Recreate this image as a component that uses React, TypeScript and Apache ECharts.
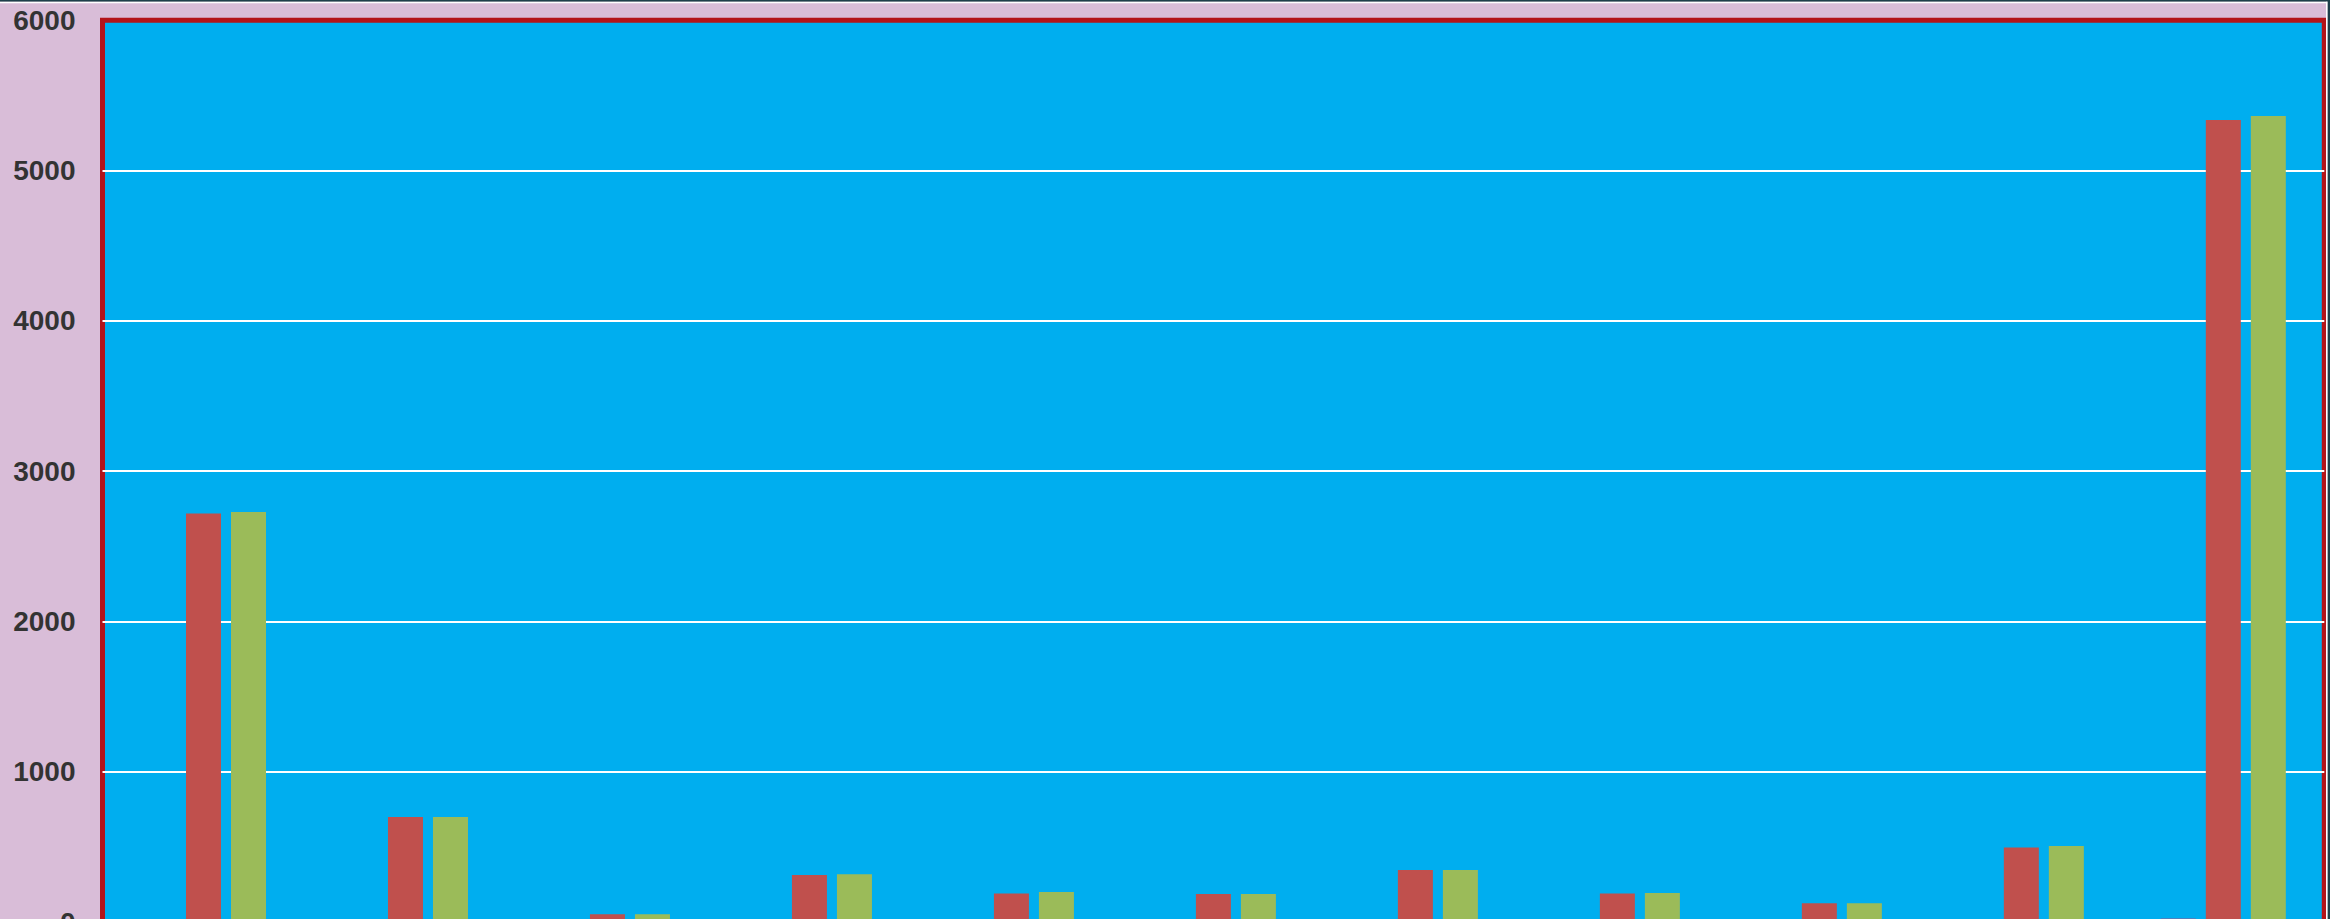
import React, { useEffect, useRef } from "react";
import * as echarts from "echarts";

// Category axis (labels are cut off below the visible area in the reference)
const categories = ["C1", "C2", "C3", "C4", "C5", "C6", "C7", "C8", "C9", "C10", "Total"];

// Series values
const seriesBlue = [2, 2, 1, 2, 2, 2, 3, 2, 2, 4, 27];
const seriesRed = [2719, 699, 52, 313, 191, 187, 347, 191, 125, 497, 5336];
const seriesGreen = [2728, 699, 52, 318, 200, 187, 347, 194, 125, 506, 5362];

// Value axis
const yMin = 0;
const yMax = 6000;
const yInterval = 1000;

export default function App() {
  const ref = useRef<HTMLDivElement>(null);

  useEffect(() => {
    if (!ref.current) return;
    const chart = echarts.init(ref.current, null, { renderer: "svg" });
    const W = 2330;
    const H = 940;
    const dark = "#1d3f4a";
    chart.setOption({
      animation: false,
      backgroundColor: "#d9bdd8",
      grid: {
        left: 102.5,
        right: 5.7,
        top: 20.2,
        bottom: H - 922.1,
        show: true,
        backgroundColor: "#00aeef",
        borderColor: "#b3141a",
        borderWidth: 5,
        containLabel: false,
      },
      xAxis: {
        type: "category",
        data: categories,
        axisLine: { show: false },
        axisTick: { show: false },
        axisLabel: { show: false },
        splitLine: { show: false },
      },
      yAxis: {
        type: "value",
        min: yMin,
        max: yMax,
        interval: yInterval,
        axisLine: { show: false },
        axisTick: { show: false },
        axisLabel: {
          margin: 27,
          color: "#333333",
          fontWeight: "bold",
          fontSize: 28,
          fontFamily: "'Liberation Sans', Arial, sans-serif",
          formatter: (v: number) => String(v),
        },
        splitLine: {
          show: true,
          showMaxLine: false,
          lineStyle: { color: "#ffffff", width: 2 },
        },
      },
      series: [
        {
          name: "Series 1",
          type: "bar",
          data: seriesBlue,
          barWidth: 35,
          barGap: "28.6%",
          itemStyle: { color: "#4f81bd" },
        },
        {
          name: "Series 2",
          type: "bar",
          data: seriesRed,
          barWidth: 35,
          barGap: "28.6%",
          itemStyle: { color: "#c0504d" },
        },
        {
          name: "Series 3",
          type: "bar",
          data: seriesGreen,
          barWidth: 35,
          barGap: "28.6%",
          itemStyle: { color: "#9bbb59" },
        },
      ],
      graphic: [
        { type: "rect", silent: true, z: 100, shape: { x: 0, y: 0, width: W, height: 1.7 }, style: { fill: dark } },
        { type: "rect", silent: true, z: 100, shape: { x: 0, y: 1.7, width: 2327.7, height: 1.6 }, style: { fill: "#ffffff" } },
        { type: "rect", silent: true, z: 100, shape: { x: 2326, y: 1.7, width: 1.7, height: H }, style: { fill: "#ffffff" } },
        { type: "rect", silent: true, z: 100, shape: { x: 2327.7, y: 0, width: 2.3, height: H }, style: { fill: dark } },
      ],
    });
    return () => chart.dispose();
  }, []);

  return (
    <div
      ref={ref}
      style={{ position: "fixed", left: 0, top: 0, width: 2330, height: 940, overflow: "hidden" }}
    />
  );
}
